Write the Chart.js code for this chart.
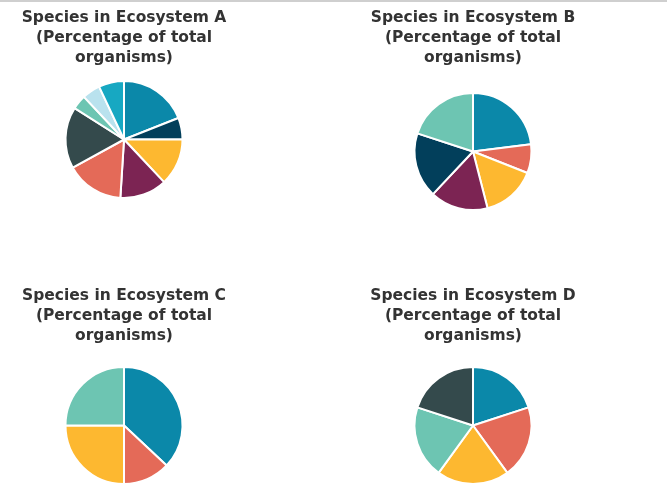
<!DOCTYPE html>
<html>
<head>
<meta charset="utf-8">
<script src="https://cdn.jsdelivr.net/npm/chart.js@4"></script>
<style>
  html, body { margin: 0; padding: 0; background: #fff; }
  body { width: 667px; height: 493px; position: relative; overflow: hidden; border-top: 2px solid #cfcfcf; box-sizing: border-box; }
  .box { position: absolute; }
</style>
</head>
<body>
<div class="box" style="left:0;top:-2px;width:248px;height:199px"><canvas id="chartA"></canvas></div>
<div class="box" style="left:349px;top:-2px;width:248px;height:211px"><canvas id="chartB"></canvas></div>
<div class="box" style="left:0;top:276px;width:248px;height:207px"><canvas id="chartC"></canvas></div>
<div class="box" style="left:349px;top:276px;width:248px;height:207px"><canvas id="chartD"></canvas></div>
<script>
// values, percent of total organisms, clockwise from 12 o'clock
const speciesA=['Species 1','Species 2','Species 3','Species 4','Species 5','Species 6','Species 7','Species 8','Species 9'];
const valuesA=[19,6,13,13,16,17,4,5,7];
const speciesB=['Species 1','Species 2','Species 3','Species 4','Species 5','Species 6'];
const valuesB=[23,8,15,16,18,20];
const speciesC=['Species 1','Species 2','Species 3','Species 4'];
const valuesC=[37,13,25,25];
const speciesD=['Species 1','Species 2','Species 3','Species 4','Species 5'];
const valuesD=[20,20,20,20,20];
const subtitle=['(Percentage of total','organisms)'];

const teal='#0b88a9', navy='#023f5b', yellow='#fdb830', maroon='#7c2453',
      coral='#e46a58', slate='#344a4c', mint='#6dc5b2', pale='#b9e2ee', cyan='#17a8c2';
const colorsA=[teal,navy,yellow,maroon,coral,slate,mint,pale,cyan];
const colorsB=[teal,coral,yellow,maroon,navy,mint];
const colorsC=[teal,coral,yellow,mint];
const colorsD=[teal,coral,yellow,mint,slate];

function makePie(id,name,labels,values,colors,padBottom){
    new Chart(document.getElementById(id),{
        type:'pie',
        data:{
            labels:labels,
            datasets:[{
                data:values,
                backgroundColor:colors,
                borderColor:'#ffffff',
                borderWidth:2
            }]
        },
        options:{
            responsive:true,
            maintainAspectRatio:false,
            animation:false,
            layout:{padding:0},
            plugins:{
                legend:{display:false},
                tooltip:{enabled:false},
                title:{
                    display:true,
                    text:['Species in Ecosystem '+name].concat(subtitle),
                    color:'#333333',
                    font:{family:'"DejaVu Sans", sans-serif',size:15.5,weight:'bold',lineHeight:20/15.5},
                    padding:{top:8,bottom:padBottom}
                }
            }
        }
    });
}

makePie('chartA','A',speciesA,valuesA,colorsA,12);
makePie('chartB','B',speciesB,valuesB,colorsB,24);
makePie('chartC','C',speciesC,valuesC,colorsC,20);
makePie('chartD','D',speciesD,valuesD,colorsD,20);
</script>
</body>
</html>
